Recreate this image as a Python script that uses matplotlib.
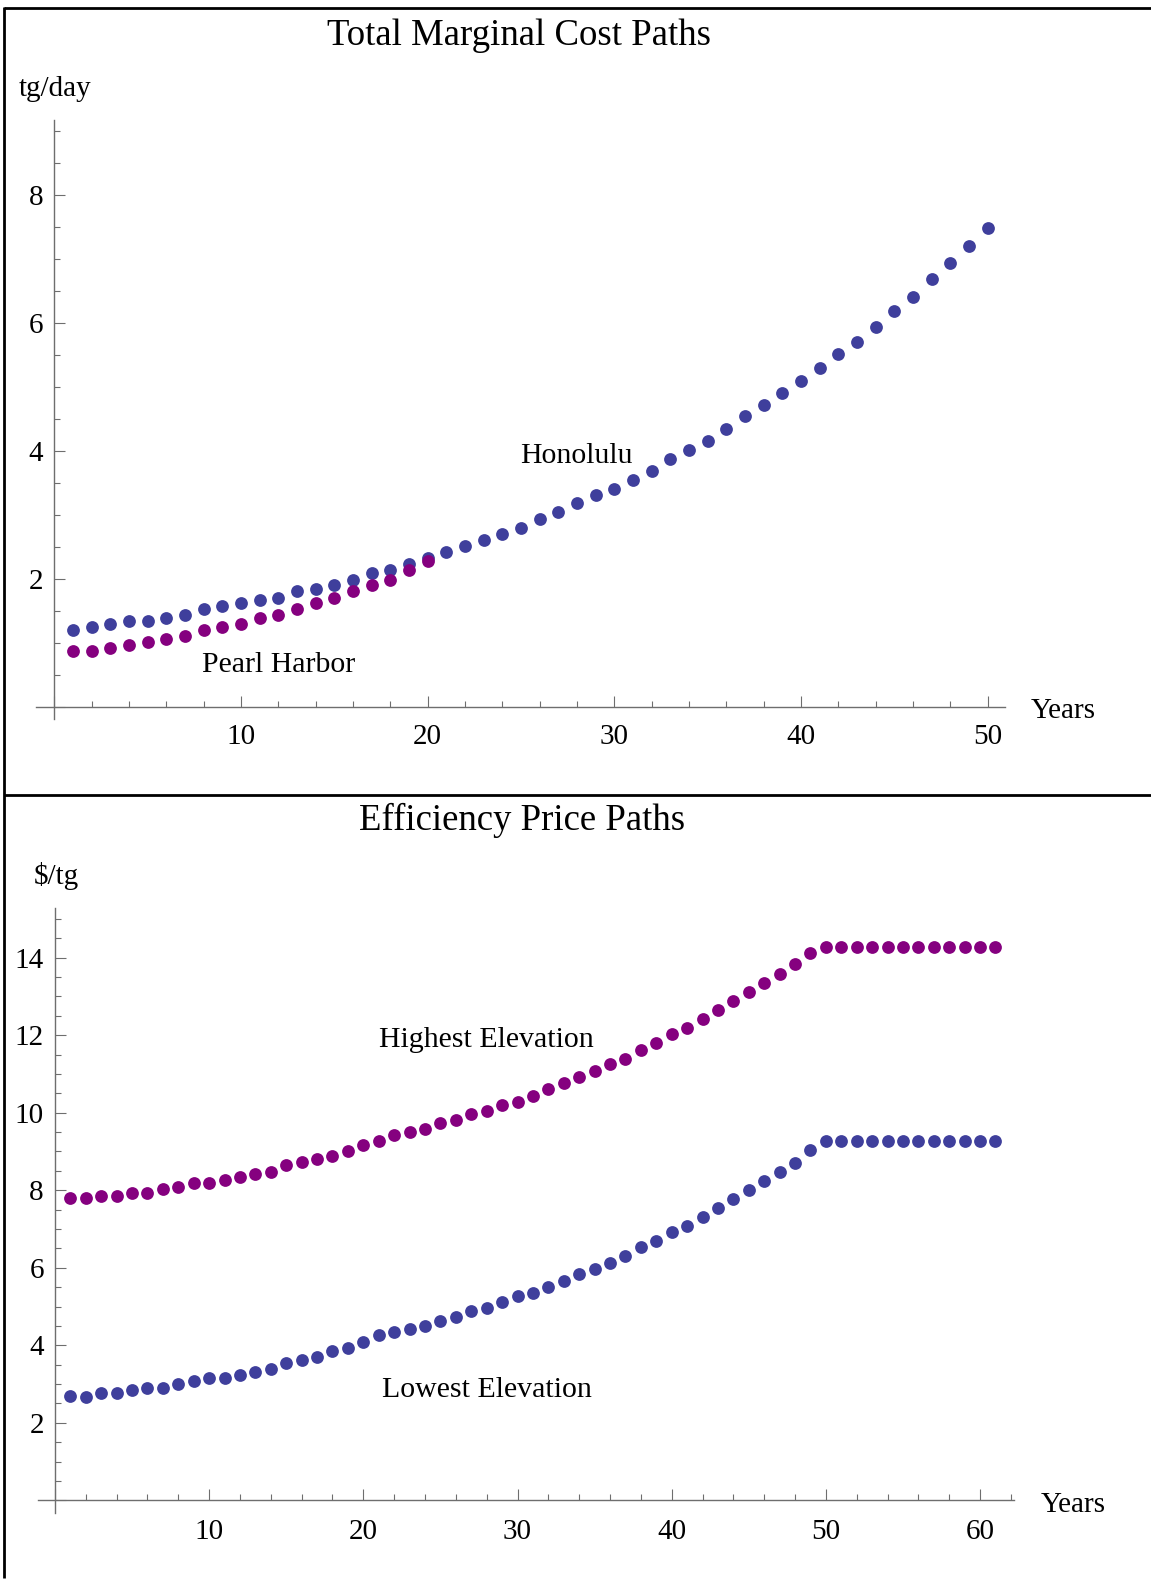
import matplotlib
matplotlib.use("Agg")
import matplotlib.pyplot as plt
from matplotlib.lines import Line2D
from matplotlib.ticker import MultipleLocator, FuncFormatter

plt.rcParams['font.family'] = ['Liberation Serif', 'DejaVu Serif']

# top panel: total marginal cost paths (tg/day)
years_top = list(range(1, 51))
honolulu = [1.20, 1.245, 1.30, 1.34, 1.34, 1.385, 1.44, 1.53, 1.58, 1.62,
            1.67, 1.71, 1.81, 1.85, 1.91, 1.99, 2.09, 2.14, 2.23, 2.33,
            2.42, 2.52, 2.61, 2.70, 2.80, 2.94, 3.04, 3.18, 3.31, 3.41,
            3.55, 3.69, 3.88, 4.02, 4.16, 4.35, 4.54, 4.72, 4.91, 5.10,
            5.29, 5.52, 5.71, 5.94, 6.18, 6.41, 6.69, 6.93, 7.21, 7.49]
years_pearl = list(range(1, 21))
pearl_harbor = [0.875, 0.875, 0.92, 0.97, 1.01, 1.06, 1.11, 1.20, 1.245, 1.30,
                1.385, 1.44, 1.53, 1.62, 1.71, 1.81, 1.91, 1.99, 2.14, 2.28]

# bottom panel: efficiency price paths ($/tg)
years_bottom = list(range(1, 62))
highest = [7.79, 7.79, 7.86, 7.86, 7.94, 7.94, 8.02, 8.09, 8.18, 8.18,
           8.26, 8.33, 8.42, 8.48, 8.65, 8.72, 8.80, 8.88, 9.02, 9.18,
           9.26, 9.42, 9.50, 9.57, 9.74, 9.81, 9.97, 10.05, 10.21, 10.28,
           10.44, 10.60, 10.76, 10.93, 11.08, 11.25, 11.39, 11.62, 11.79, 12.02,
           12.19, 12.41, 12.64, 12.88, 13.11, 13.35, 13.58, 13.83, 14.13, 14.28,
           14.28, 14.28, 14.28, 14.28, 14.28, 14.28, 14.28, 14.28, 14.28, 14.28, 14.28]
lowest = [2.69, 2.67, 2.76, 2.76, 2.84, 2.91, 2.91, 3.00, 3.08, 3.15,
          3.15, 3.23, 3.32, 3.39, 3.55, 3.63, 3.70, 3.86, 3.94, 4.09,
          4.26, 4.33, 4.41, 4.50, 4.63, 4.74, 4.88, 4.97, 5.12, 5.28,
          5.36, 5.51, 5.66, 5.83, 5.98, 6.13, 6.30, 6.53, 6.68, 6.92,
          7.08, 7.32, 7.54, 7.77, 8.01, 8.25, 8.48, 8.71, 9.04, 9.27,
          9.27, 9.27, 9.27, 9.27, 9.27, 9.27, 9.27, 9.27, 9.27, 9.27, 9.27]

blue = '#3f3f9c'
purple = '#85007f'
axis_grey = '#6e6e6e'
W, H = 1151, 1583


def fx(px):
    return px / W


def fy(py):
    return 1 - py / H


# mathematica style axes crossing at the origin
def setup_axes(ax, xlim, ylim, xpad):
    ax.set_xlim(*xlim)
    ax.set_ylim(*ylim)
    ax.spines['top'].set_visible(False)
    ax.spines['right'].set_visible(False)
    for side in ('left', 'bottom'):
        ax.spines[side].set_position(('data', 0))
        ax.spines[side].set_color(axis_grey)
        ax.spines[side].set_linewidth(1.0)
    ax.xaxis.set_major_locator(MultipleLocator(10))
    ax.xaxis.set_minor_locator(MultipleLocator(2))
    ax.yaxis.set_major_locator(MultipleLocator(2))
    ax.yaxis.set_minor_locator(MultipleLocator(0.5))
    hide_zero = FuncFormatter(lambda v, p: '' if abs(v) < 1e-9 else f'{v:g}')
    ax.xaxis.set_major_formatter(hide_zero)
    ax.yaxis.set_major_formatter(hide_zero)
    ax.tick_params(which='both', direction='in', color=axis_grey, width=0.8,
                   labelsize=21, labelcolor='black')
    ax.tick_params(which='major', length=7.8)
    ax.tick_params(which='minor', length=4.6)
    ax.tick_params(axis='x', which='major', pad=xpad)
    ax.tick_params(axis='y', which='major', pad=8)
    ax.patch.set_visible(False)


fig = plt.figure(figsize=(W / 100, H / 100), dpi=100)

# --- Total Marginal Cost Paths
ax1 = fig.add_axes([fx(35.6), fy(719.2), fx(1004.6 - 35.6), (719.2 - 120.1) / H])
setup_axes(ax1, (-1, 50.9), (-0.19, 9.17), 12)
ax1.plot(years_top, honolulu, 'o', color=blue, markersize=9.2, markeredgewidth=0, clip_on=False)
ax1.plot(years_pearl, pearl_harbor, 'o', color=purple, markersize=9.2, markeredgewidth=0, clip_on=False)
ax1.text(24.94, 3.82, 'Honolulu', fontsize=21.5, va='baseline', ha='left')
ax1.text(7.9, 0.55, 'Pearl Harbor', fontsize=21.5, va='baseline', ha='left')

fig.text(fx(519), fy(45), 'Total Marginal Cost Paths', fontsize=26.5, ha='center', va='baseline')
fig.text(fx(18.3), fy(96.5), 'tg/day', fontsize=21, ha='left', va='baseline')
fig.text(fx(1031), fy(718), 'Years', fontsize=21, ha='left', va='baseline')

# --- Efficiency Price Paths
ax2 = fig.add_axes([fx(38.3), fy(1512.7), fx(1014 - 38.3), (1512.7 - 907.7) / H])
setup_axes(ax2, (-1.08, 62.2), (-0.32, 15.29), 13.5)
ax2.plot(years_bottom, highest, 'o', color=purple, markersize=9.2, markeredgewidth=0, clip_on=False)
ax2.plot(years_bottom, lowest, 'o', color=blue, markersize=9.2, markeredgewidth=0, clip_on=False)
ax2.text(21.03, 11.70, 'Highest Elevation', fontsize=21.5, va='baseline', ha='left')
ax2.text(21.18, 2.67, 'Lowest Elevation', fontsize=21.5, va='baseline', ha='left')

fig.text(fx(522.5), fy(830), 'Efficiency Price Paths', fontsize=26.5, ha='center', va='baseline')
fig.text(fx(33.3), fy(884), '$/tg', fontsize=21, ha='left', va='baseline')
fig.text(fx(1040.7), fy(1512.3), 'Years', fontsize=21, ha='left', va='baseline')

# frame lines around the two panels (cropped on the right and bottom)
frame_kw = dict(color='black', linewidth=2.0, solid_capstyle='butt')
fig.add_artist(Line2D([fx(4), fx(W)], [fy(7.5), fy(7.5)], **frame_kw))
fig.add_artist(Line2D([fx(4), fx(W)], [fy(795.3), fy(795.3)], **frame_kw))
fig.add_artist(Line2D([fx(4), fx(4)], [fy(6.5), fy(1578)], **frame_kw))

fig.savefig('out.png', dpi=100)
